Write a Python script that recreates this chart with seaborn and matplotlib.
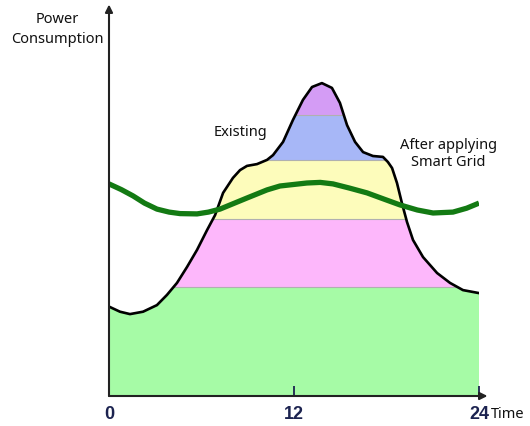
import numpy as np
import pandas as pd
import matplotlib
matplotlib.use("Agg")
import matplotlib.pyplot as plt
import seaborn as sns

# ---- data (hours, relative power) ----
load_hours = [0.0, 0.71, 1.36, 2.21, 3.11, 3.76, 4.41, 5.06, 5.71, 6.36, 6.88, 7.40,
              8.04, 8.50, 8.95, 9.60, 10.25, 10.64, 11.29, 11.93, 12.58, 13.17,
              13.81, 14.46, 14.98, 15.44, 15.96, 16.48, 17.12, 17.77, 18.09, 18.36,
              18.68, 19.00, 19.33, 19.72, 20.37, 21.28, 22.12, 22.96, 24.0]
load_values = [29.8, 28.1, 27.3, 28.1, 30.3, 33.7, 37.7, 43.0, 48.7, 55.3, 60.3, 67.7,
               72.7, 75.3, 76.7, 77.3, 78.7, 80.3, 84.7, 92.0, 98.7, 103.0,
               104.3, 102.7, 97.7, 90.3, 84.7, 81.3, 80.0, 79.7, 78.0, 76.0,
               71.0, 64.3, 58.0, 52.0, 46.3, 41.0, 37.7, 35.3, 34.3]

grid_hours = [0.0, 0.8, 1.56, 2.3, 3.11, 3.9, 4.61, 5.71, 6.45, 7.20, 8.95, 10.25,
              11.09, 12.84, 13.7, 14.53, 15.60, 16.74, 17.80, 18.87, 20.00, 21.02,
              22.31, 23.2, 24.0]
grid_values = [70.7, 68.8, 66.7, 64.3, 62.3, 61.3, 60.8, 60.7, 61.3, 62.3, 66.0, 68.7,
               70.0, 71.0, 71.2, 70.7, 69.3, 67.7, 65.7, 63.7, 62.0, 61.0,
               61.3, 62.6, 64.3]

band_levels = [0, 36.3, 59.0, 78.7, 93.7, 130]
band_colors = ["#a6fba6", "#fdb7fb", "#fdfcbb", "#a7b7f7", "#d49cf5"]

tick_positions = [0, 12, 24]
tick_labels = ["0", "12", "24"]

load_df = pd.DataFrame({"hour": load_hours, "power": load_values})
grid_df = pd.DataFrame({"hour": grid_hours, "power": grid_values})

sns.set_style("white")
plt.rcParams["font.family"] = ["Noto Sans", "DejaVu Sans"]

fig = plt.figure(figsize=(5.30, 4.26), dpi=100)
ax = fig.add_axes([109 / 530, 30 / 426, 370 / 530, 390 / 426])
ax.set_xlim(0, 24)
ax.set_ylim(0, 130)
ax.set_axisbelow(False)
for s in ax.spines.values():
    s.set_visible(False)

# clipping polygon = area under existing load curve
poly = ax.fill_between(load_df["hour"], 0, load_df["power"], color="none", lw=0)
clip = poly.get_paths()[0]
for lo, hi, c in zip(band_levels[:-1], band_levels[1:], band_colors):
    r = ax.axhspan(lo, hi, xmin=0, xmax=1, color=c, lw=0, zorder=1)
    r.set_clip_path(clip, ax.transData)
for lv in band_levels[1:-1]:
    ln = ax.axhline(lv, color="#b0b0b0", lw=0.8, zorder=1.5)
    ln.set_clip_path(clip, ax.transData)

sns.lineplot(data=load_df, x="hour", y="power", ax=ax, color="black", lw=1.9,
             sort=False, zorder=3, solid_joinstyle="round")
sns.lineplot(data=grid_df, x="hour", y="power", ax=ax, color="#137a13", lw=3.8,
             sort=False, zorder=4, solid_joinstyle="round", solid_capstyle="butt")
ax.set_xlabel("")
ax.set_ylabel("")

# axes arrows
ax.annotate("", xy=(24.55, 0), xytext=(0, 0), xycoords="data",
            arrowprops=dict(arrowstyle="-|>", mutation_scale=11, lw=1.5, color="#222222",
                            shrinkA=0, shrinkB=0), annotation_clip=False, zorder=5)
ax.annotate("", xy=(0, 130.5), xytext=(0, 0), xycoords="data",
            arrowprops=dict(arrowstyle="-|>", mutation_scale=11, lw=1.5, color="#222222",
                            shrinkA=0, shrinkB=0), annotation_clip=False, zorder=5)

ax.set_yticks([])
ax.set_xticks(tick_positions)
ax.set_xticklabels(tick_labels, fontweight="bold", fontsize=13, color="#1c2350",
                   family=["Liberation Sans", "DejaVu Sans"])
ax.tick_params(axis="x", direction="in", length=7, width=1.3, color="#1c2350", pad=7,
               bottom=True)

ax.text(-3.37, 122.3, "Power\nConsumption", ha="center", va="center", fontsize=10.5,
        linespacing=1.45, color="#111111")
ax.text(8.5, 88.0, "Existing", ha="center", va="center", fontsize=10.5, color="#111111")
ax.text(22.0, 80.7, "After applying\nSmart Grid", ha="center", va="center", fontsize=10.5,
        linespacing=1.2, color="#111111", clip_on=False)
ax.text(24.8, -6.3, "Time", ha="left", va="center", fontsize=10.5, color="#111111",
        clip_on=False)

fig.savefig("out.png", dpi=100)
